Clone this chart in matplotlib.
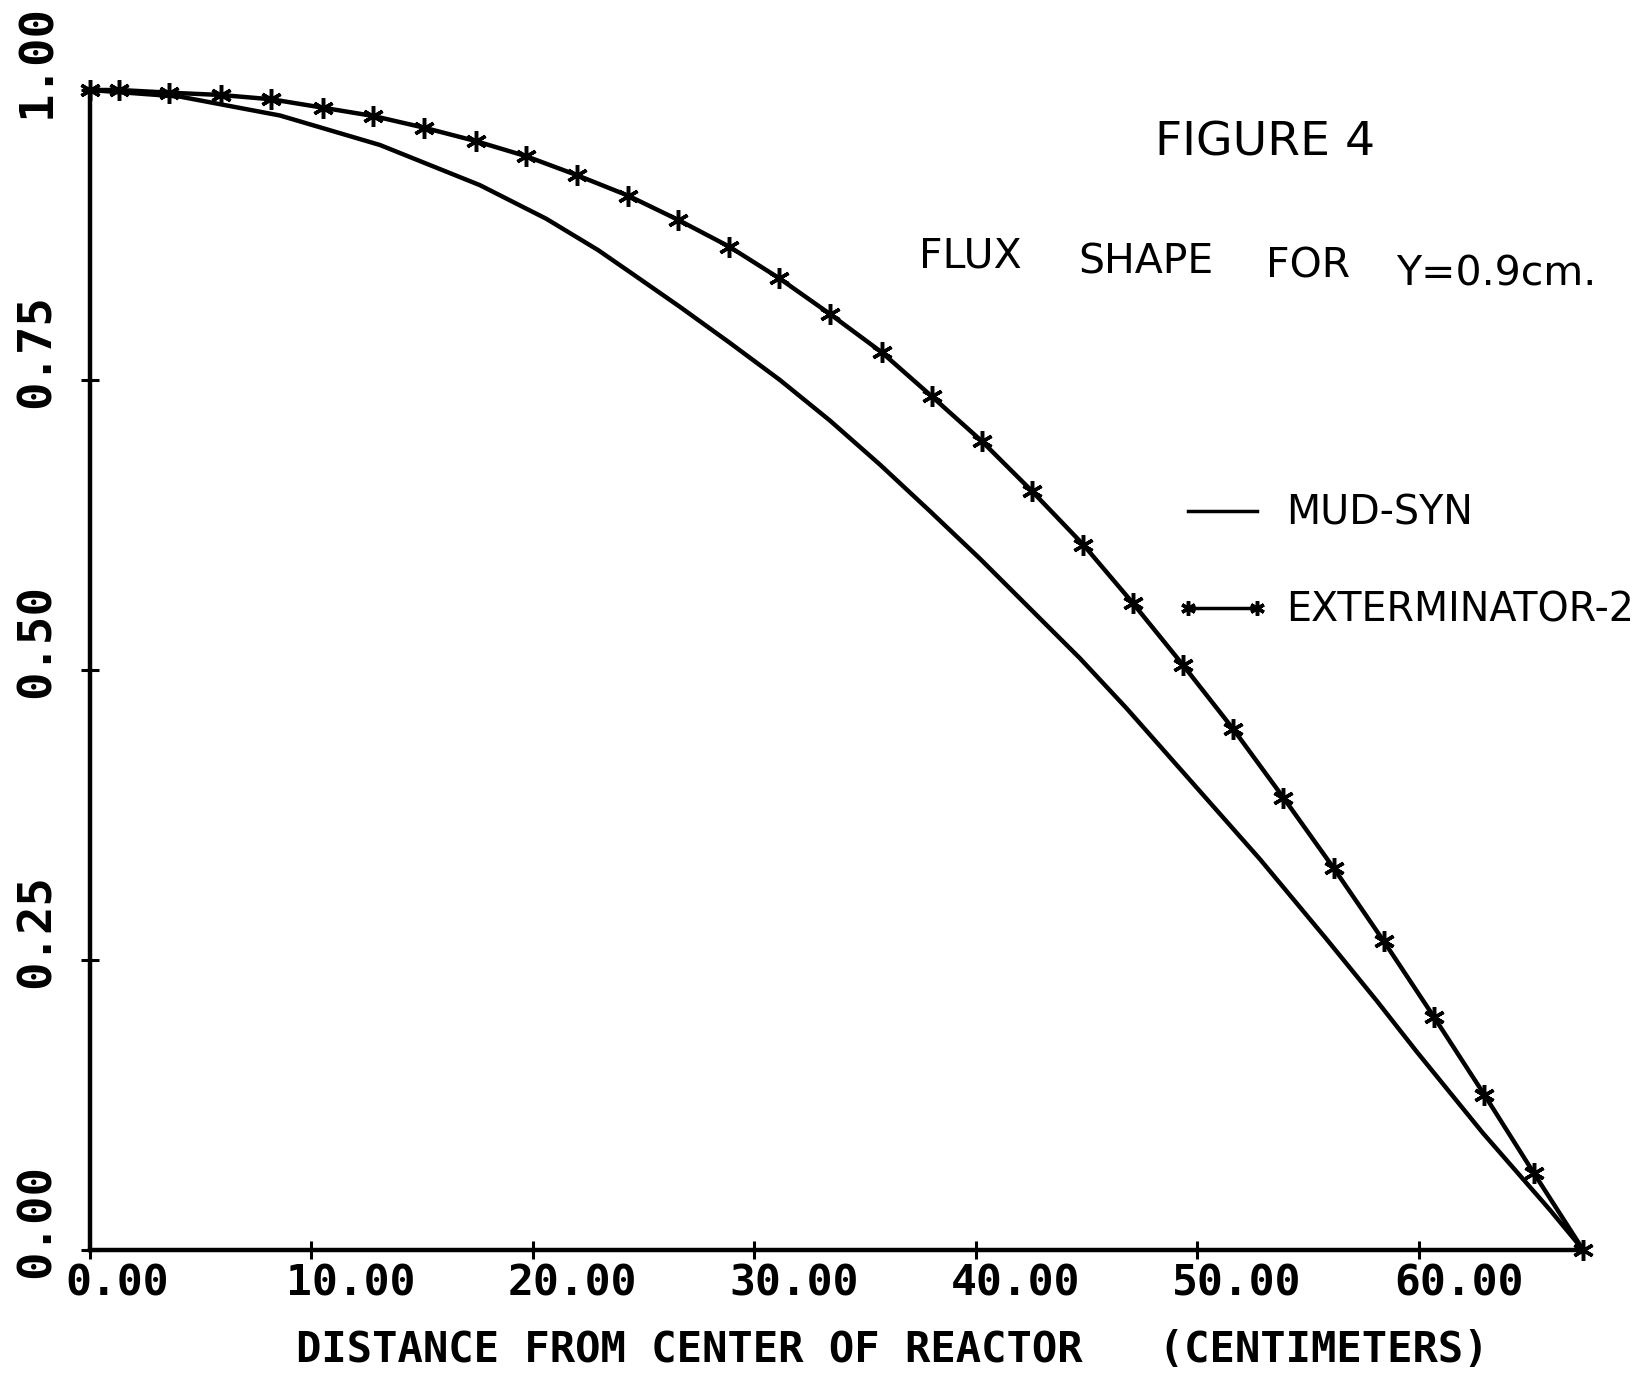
#!/usr/bin/python3
# coding : utf-8
# flux shape along x for y = 0.9 cm, MUD-SYN vs EXTERMINATOR-2

import matplotlib
matplotlib.use("Agg")
import matplotlib.pyplot as plt
from matplotlib.transforms import ScaledTranslation

# distance from center (cm) and relative flux
mud_x = [0.0, 4.06, 8.58, 13.09, 17.6, 20.6, 22.94, 24.38, 26.64, 28.89,
         31.15, 33.41, 35.67, 37.92, 40.18, 42.44, 44.7, 46.8, 49.81, 52.82,
         55.83, 58.09, 59.9, 62.9, 65.92, 67.42]
mud_y = [1.0, 0.9943, 0.978, 0.9526, 0.918, 0.889, 0.862, 0.843, 0.813, 0.782,
         0.75, 0.715, 0.677, 0.637, 0.596, 0.553, 0.51, 0.467, 0.402, 0.337,
         0.268, 0.215, 0.171, 0.1006, 0.0345, 0.0]

ext_x = [0.0, 1.32, 3.58, 5.91, 8.19, 10.53, 12.79, 15.09, 17.41, 19.68,
         21.97, 24.30, 26.56, 28.86, 31.12, 33.41, 35.74, 38.0, 40.28, 42.54,
         44.85, 47.07, 49.36, 51.62, 53.88, 56.16, 58.42, 60.69, 62.95, 65.2,
         67.42]
ext_y = [1.0, 1.0, 0.9977, 0.9957, 0.992, 0.9847, 0.9776, 0.9675, 0.956, 0.943,
         0.9267, 0.9089, 0.888, 0.865, 0.8377, 0.8069, 0.774, 0.736, 0.697, 0.654,
         0.608, 0.558, 0.504, 0.449, 0.390, 0.329, 0.266, 0.2006, 0.134, 0.066,
         0.0]

xticks = [0, 10, 20, 30, 40, 50, 60]
xtick_labels = ["0.00", "10.00", "20.00", "30.00", "40.00", "50.00", "60.00"]
yticks = [0.0, 0.25, 0.5, 0.75, 1.0]
ytick_labels = ["0.00", "0.25", "0.50", "0.75", "1.00"]

W, H = 1648, 1377
MONO = "DejaVu Sans Mono"
SANS = "DejaVu Sans"


def px(dx, dy, fig):
    # offset in pixels
    return ScaledTranslation(dx / fig.dpi, dy / fig.dpi, fig.dpi_scale_trans)


def main():
    fig = plt.figure(figsize=(W / 100, H / 100), dpi=100)
    ax = fig.add_axes([90 / W, 1 - 1250 / H, 1495 / W, 1160 / H])

    ax.plot(mud_x, mud_y, color="black", lw=3.2, clip_on=False, label="MUD-SYN")
    ax.plot(ext_x, ext_y, color="black", lw=3.2, marker=(6, 2, 0), ms=15, mew=2.5,
            clip_on=False, label="EXTERMINATOR-2")

    ax.set_xlim(0, 67.5)
    ax.set_ylim(0, 1.0)
    for s in ["top", "right"]:
        ax.spines[s].set_visible(False)
    for s in ["left", "bottom"]:
        ax.spines[s].set_linewidth(3.2)

    ax.set_xticks(xticks)
    ax.set_yticks(yticks)
    ax.tick_params(direction="inout", length=13, width=2.2, labelbottom=False,
                   labelleft=False)

    for t, lab in zip(xticks, xtick_labels):
        ax.text(t, 0, lab, transform=ax.get_xaxis_transform() + px(-25, -13, fig),
                ha="left", va="top", family=MONO, weight="bold", fontsize=31)
    for t, lab in zip(yticks, ytick_labels):
        ax.text(0, t, lab, transform=ax.get_yaxis_transform() + px(-40, -28, fig),
                rotation=90, rotation_mode="anchor", ha="left", va="baseline",
                family=MONO, weight="bold", fontsize=34)

    ax.set_xlabel("DISTANCE FROM CENTER OF REACTOR   (CENTIMETERS)", family=MONO,
                  weight="bold", fontsize=30.3, ha="left", va="baseline")
    ax.xaxis.set_label_coords(0.1378, -0.0966)

    fig.text(1155 / W, 1 - 156 / H, "FIGURE 4", family=SANS, fontsize=34)
    words = [("FLUX", 919, 267), ("SHAPE", 1078, 273), ("FOR", 1266, 278),
             ("Y=0.9cm.", 1396, 285)]
    for w, x, y in words:
        fig.text(x / W, 1 - y / H, w, family=SANS, fontsize=29.5)

    leg = ax.legend(loc="upper left", bbox_to_anchor=(1176 / W, 1 - 494 / H),
                    bbox_transform=fig.transFigure, frameon=False,
                    handlelength=2.35, handletextpad=0.42, labelspacing=1.44,
                    borderpad=0, borderaxespad=0, numpoints=2, markerscale=0.7,
                    prop={"family": SANS, "size": 28.5})
    for line in leg.get_lines():
        line.set_linewidth(2.5)

    fig.savefig("out.png", dpi=100)


if __name__ == "__main__":
    main()
